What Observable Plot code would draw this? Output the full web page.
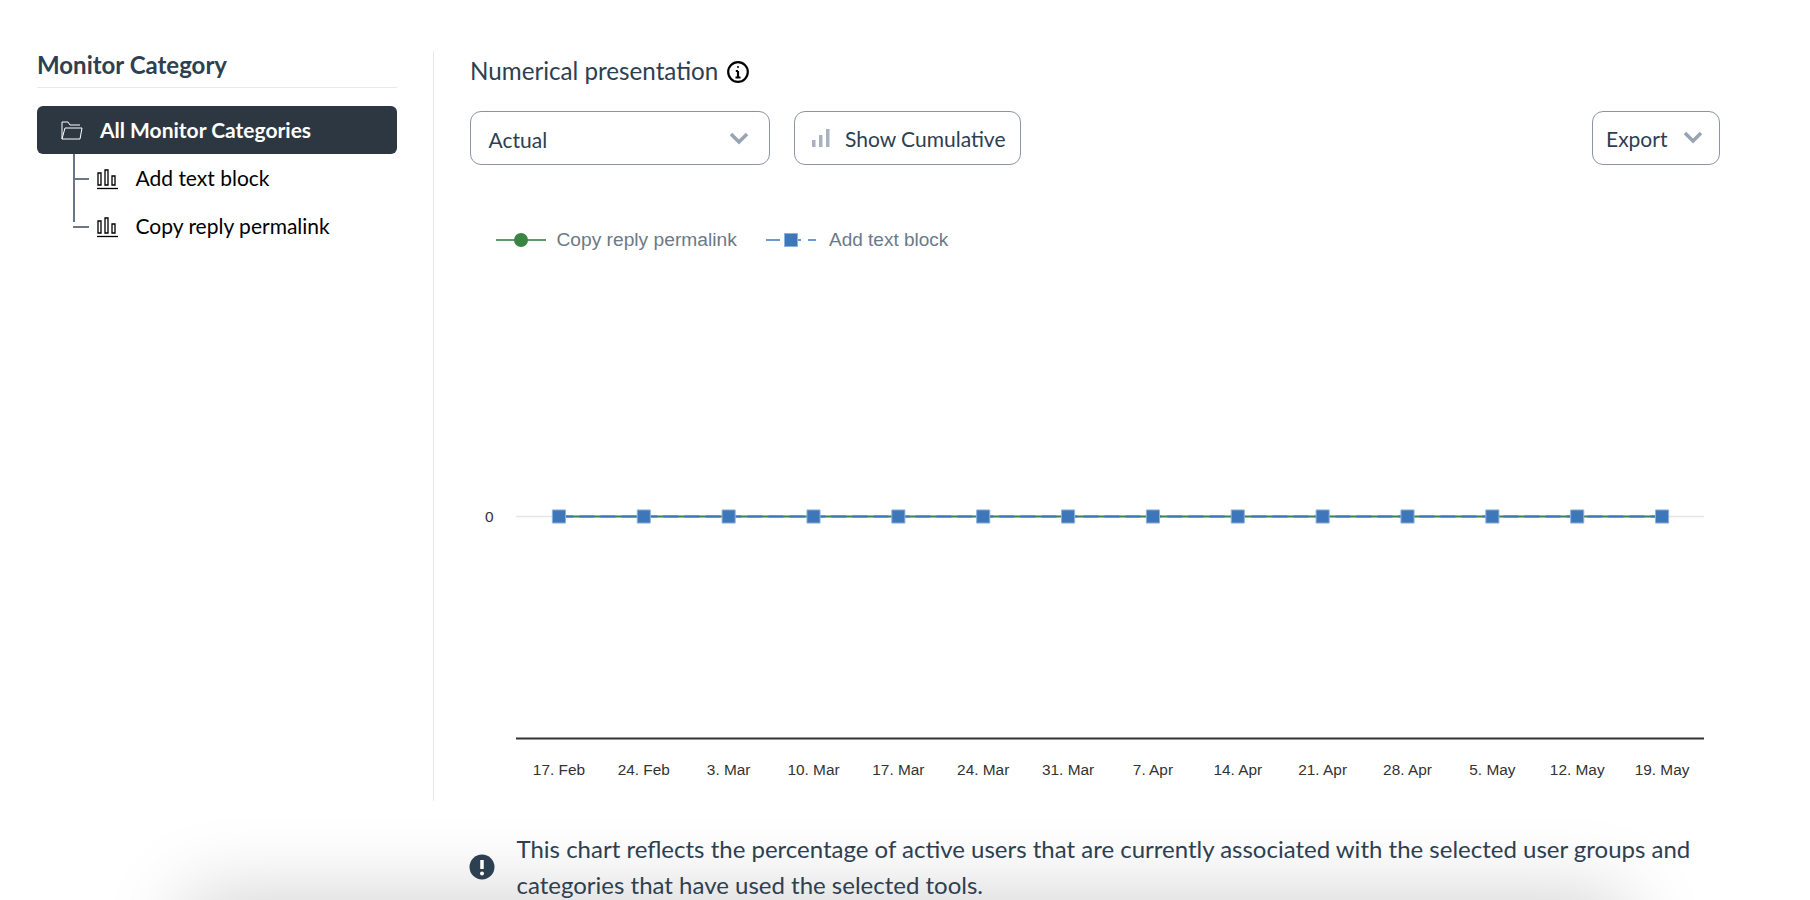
<!DOCTYPE html>
<html>
<head>
<meta charset="utf-8">
<script src="https://cdn.jsdelivr.net/npm/d3@7"></script>
<script src="https://cdn.jsdelivr.net/npm/@observablehq/plot@0.6"></script>
<style>
  html, body { margin: 0; padding: 0; background: #fff; width: 1810px; height: 900px; overflow: hidden; }
  body { position: relative; font-family: Lato, sans-serif; color: #2d4052; }
  .abs { position: absolute; white-space: nowrap; }
  .btn { position: absolute; box-sizing: border-box; border: 1px solid #8d95a5; border-radius: 11px; top: 111px; height: 54px; background: #fff; }
  .legend { font-family: "Liberation Sans", sans-serif; font-size: 19.2px; color: #6b7a88; line-height: 20px; }
  .item { font-size: 21px; color: #000; line-height: 28px; }
  .note { font-size: 24px; line-height: 36px; color: #2d4052; }
  .ctl { font-size: 21px; line-height: 30px; }
</style>
</head>
<body>
<!-- sidebar -->
<div class="abs" style="left:37px;top:49px;font-size:24px;font-weight:700;line-height:32px">Monitor Category</div>
<div class="abs" style="left:37px;top:87px;width:360px;height:1px;background:#e8e8e8"></div>
<div class="abs" style="left:433px;top:51px;width:1px;height:750px;background:#e8e8e8"></div>
<div class="abs" style="left:37px;top:106px;width:360px;height:48px;border-radius:6px;background:#2d3742"></div>
<svg class="abs" style="left:58px;top:118px" width="28" height="26" fill="none" stroke="#fff" stroke-width="1">
  <path d="M4 21V4h6l2 3h10M4 21h18l2-11H7z"/>
</svg>
<div class="abs" style="left:100px;top:115px;font-size:21px;font-weight:700;color:#fff;line-height:30px">All Monitor Categories</div>
<svg class="abs" style="left:70px;top:154px" width="20" height="80" fill="none" stroke="#6b7785" stroke-width="2">
  <path d="M4 0V68M4 25H19M3 73H19"/>
</svg>
<svg class="abs" style="left:70px;top:154px" width="56" height="40" fill="none" stroke="#000" stroke-width="1.300">
  <path d="M27 34.500H48"/><path d="M28 19h3v12h-3zM35 16h3v15h-3zM42 22h3v9h-3z"/>
</svg>
<svg class="abs" style="left:70px;top:202px" width="56" height="40" fill="none" stroke="#000" stroke-width="1.300">
  <path d="M27 34.500H48"/><path d="M28 19h3v12h-3zM35 16h3v15h-3zM42 22h3v9h-3z"/>
</svg>
<div class="abs item" style="left:135.500px;top:164px">Add text block</div>
<div class="abs item" style="left:135.500px;top:212px">Copy reply permalink</div>

<!-- header controls -->
<div class="abs" style="left:470px;top:55px;font-size:24.200px;line-height:32px">Numerical presentation</div>
<svg class="abs" style="left:726px;top:60px" width="24" height="24" fill="none" stroke="#000" stroke-width="2.200">
  <circle cx="12" cy="12" r="9.800"/><path d="M12 11v6.500M9.500 17.500h5M9.800 11H12"/><circle cx="12" cy="7" r="1" fill="#000" stroke="none"/>
</svg>
<div class="btn" style="left:470px;width:300px"></div>
<div class="abs ctl" style="left:488.500px;top:125px">Actual</div>
<svg class="abs" style="left:728px;top:131px" width="24" height="16" fill="none" stroke="#98a4b3" stroke-width="3.500"><path d="M3 3l8 8 8-8"/></svg>
<div class="btn" style="left:794px;width:227px"></div>
<svg class="abs" style="left:810px;top:126px" width="24" height="26" fill="#a7b1c0"><rect x="2" y="14" width="3.500" height="7"/><rect x="9" y="9" width="3.500" height="12"/><rect x="16" y="3" width="3.500" height="18"/></svg>
<div class="abs ctl" style="left:845px;top:124px">Show Cumulative</div>
<div class="btn" style="left:1592px;width:128px"></div>
<div class="abs ctl" style="left:1606px;top:124px">Export</div>
<svg class="abs" style="left:1682px;top:130px" width="24" height="16" fill="none" stroke="#98a4b3" stroke-width="3.500"><path d="M3 3l8 8 8-8"/></svg>

<!-- legend -->
<svg class="abs" style="left:494px;top:230px" width="54" height="20">
  <path d="M2 10H52" stroke="#5d9c68" stroke-width="2"/><circle cx="27" cy="10" r="7" fill="#3a8545"/>
</svg>
<div class="abs legend" style="left:556.500px;top:230px">Copy reply permalink</div>
<svg class="abs" style="left:764px;top:230px" width="54" height="20">
  <path d="M2 10H52" stroke="#6d9bd0" stroke-width="2" stroke-dasharray="14 7"/><rect x="20.500" y="3.500" width="13" height="13" fill="#3d77b9" stroke="#8fb2dc"/>
</svg>
<div class="abs legend" style="left:829px;top:230px;font-size:19px">Add text block</div>

<div id="chart"></div>

<!-- footer note and the shadow at the bottom edge -->
<div class="abs" style="left:215px;top:925px;width:1380px;height:40px;box-shadow:0 0 80px 30px rgba(0,0,0,.18)"></div>
<svg class="abs" style="left:468px;top:854px" width="28" height="28">
  <circle cx="14" cy="13" r="12.500" fill="#2d4052"/><path d="M14 6v9" stroke="#fff" stroke-width="3.500"/><circle cx="14" cy="19.500" r="2" fill="#fff"/>
</svg>
<div class="abs note" style="left:516.500px;top:831px">This chart reflects the percentage of active users that are currently associated with the selected user groups and<br>categories that have used the selected tools.</div>

<script>
const weeks = ["17. Feb", "24. Feb", "3. Mar", "10. Mar", "17. Mar", "24. Mar", "31. Mar", "7. Apr", "14. Apr", "21. Apr", "28. Apr", "5. May", "12. May", "19. May"];
const copyReplyPermalink = [0, 0, 0, 0, 0, 0, 0, 0, 0, 0, 0, 0, 0, 0];
const addTextBlock = [0, 0, 0, 0, 0, 0, 0, 0, 0, 0, 0, 0, 0, 0];
const yDomain = [-1, 1];
const yTicks = [0];

const copyRows = weeks.map((week, i) => ({week, value: copyReplyPermalink[i]}));
const addRows = weeks.map((week, i) => ({week, value: addTextBlock[i]}));

const chart = Plot.plot({
  width: 1251,
  height: 531,
  marginLeft: 47,
  marginRight: 16,
  marginTop: 24,
  marginBottom: 63,
  style: {position: "absolute", left: "469px", top: "270px", background: "none", fontFamily: "'Liberation Sans', sans-serif", fontSize: "15px", color: "#333"},
  x: {type: "point", domain: weeks, padding: 0.5, round: false, label: null},
  y: {domain: yDomain, label: null},
  marks: [
    Plot.ruleY(yTicks, {stroke: "#e6e6e6", strokeWidth: 1.5}),
    Plot.ruleY([yDomain[0]], {stroke: "#333", strokeWidth: 2}),
    Plot.axisX({anchor: "bottom", tickSize: 0, tickPadding: 26, fill: "#333", fontSize: 15.4}),
    Plot.axisY({anchor: "left", ticks: yTicks, tickFormat: "d", tickSize: 0, tickPadding: 23, dy: 1, fill: "#333", fontSize: 15.4}),
    Plot.lineY(copyRows, {x: "week", y: "value", stroke: "#3a8545", strokeWidth: 2}),
    Plot.dot(copyRows, {x: "week", y: "value", fill: "#3a8545", r: 6.5}),
    Plot.lineY(addRows, {x: "week", y: "value", stroke: "#3d77b9", strokeWidth: 2, strokeDasharray: "14,7"}),
    Plot.dot(addRows, {x: "week", y: "value", symbol: "square", fill: "#3d77b9", stroke: "#8fb2dc", strokeWidth: 1, r: 7.4})
  ]
});

document.getElementById("chart").append(chart);
</script>
</body>
</html>
